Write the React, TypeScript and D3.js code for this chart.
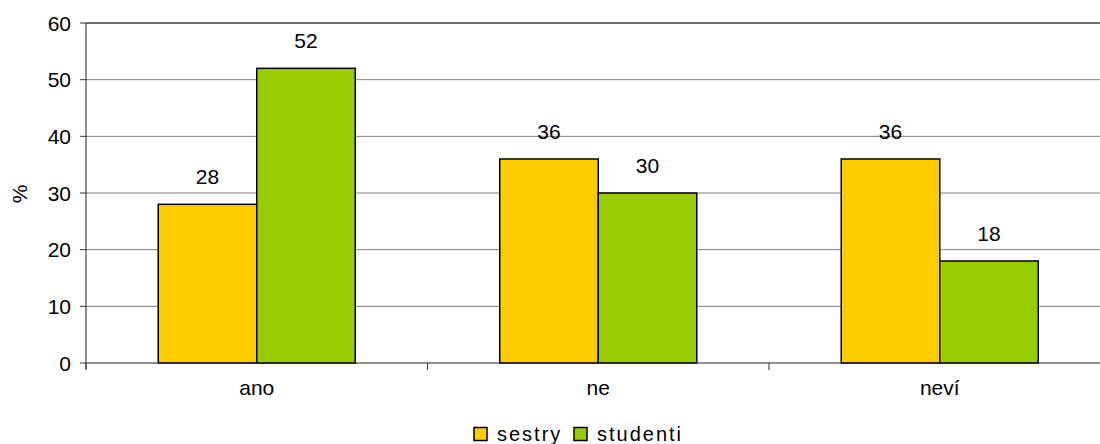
import React from "react";
import * as d3 from "d3";

const categories = ["ano", "ne", "neví"];
const seriesNames = ["sestry", "studenti"];
const sestry = [28, 36, 36];
const studenti = [52, 30, 18];
const yTicks = [0, 10, 20, 30, 40, 50, 60];
const colors = ["#FFCC00", "#99CC00"];

export default function App() {
  const W = 1100, H = 444;
  const left = 86, right = 1110.5, top = 23, bottom = 363;
  const x = d3.scaleBand<string>().domain(categories).range([left, right]).paddingInner(0).paddingOuter(0);
  const y = d3.scaleLinear().domain([0, 60]).range([bottom, top]);
  const bw = 98.5;
  const series = [sestry, studenti];
  const font = "'Liberation Sans', Arial, sans-serif";
  const fs = 21;
  return (
    <svg width={W} height={H} style={{ position: "absolute", left: 0, top: 0 }} fontFamily={font}>
      <rect width={W} height={H} fill="#fff" />
      {yTicks.map((t) => (
        <g key={t}>
          {t > 0 && <line x1={left} x2={right} y1={y(t)} y2={y(t)} stroke="#808080" strokeWidth={1} />}
          <line x1={left - 6} x2={left} y1={y(t)} y2={y(t)} stroke="#333" />
          <text x={left - 15} y={y(t)} dy="0.36em" textAnchor="end" fontSize={fs} fill="#000">{t}</text>
        </g>
      ))}
      <line x1={left} x2={right} y1={top} y2={top} stroke="#222" strokeWidth={1.2} />
      {categories.map((c, i) => {
        const cx = x(c)! + x.bandwidth() / 2;
        return (
          <g key={c}>
            {series.map((s, j) => {
              const bx = cx - bw + j * bw;
              return (
                <g key={j}>
                  <rect x={bx} y={y(s[i])} width={bw} height={bottom - y(s[i])} fill={colors[j]} stroke="#000" strokeWidth={1.5} />
                  <text x={bx + bw / 2} y={y(s[i]) - 20} textAnchor="middle" fontSize={fs} fill="#000">{s[i]}</text>
                </g>
              );
            })}
            <text x={cx} y={395} textAnchor="middle" fontSize={fs} fill="#000">{c}</text>
          </g>
        );
      })}
      <line x1={left} x2={left} y1={top} y2={bottom + 6} stroke="#222" />
      <line x1={left} x2={right} y1={bottom} y2={bottom} stroke="#222" />
      {[...categories.map((c) => x(c)!), right].map((v, i) => (
        <line key={i} x1={v} x2={v} y1={bottom} y2={bottom + 7} stroke="#333" />
      ))}
      <text transform={`translate(27,${(top + bottom) / 2 + 1}) rotate(-90)`} textAnchor="middle" fontSize={fs} fill="#000">%</text>
      <g>
        {seriesNames.map((n, j) => {
          const lx = j === 0 ? 474 : 574;
          return (
            <g key={n}>
              <rect x={lx} y={427.5} width={13} height={13} fill={colors[j]} stroke="#000" strokeWidth={1.5} />
              <text x={lx + 23} y={441} fontSize={20} letterSpacing={2} fill="#000">{n}</text>
            </g>
          );
        })}
      </g>
    </svg>
  );
}
